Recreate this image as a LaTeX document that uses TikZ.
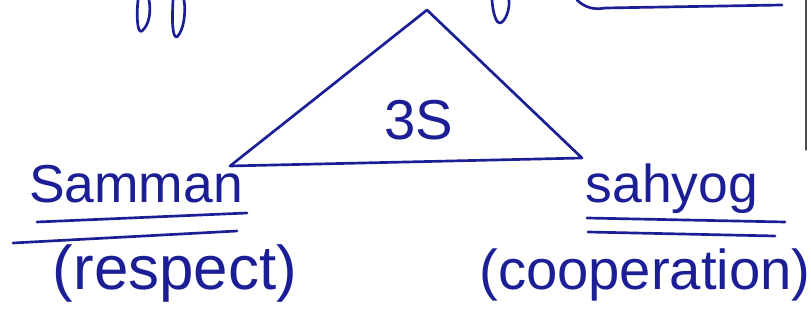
\documentclass[tikz,border=0pt]{standalone}
\usepackage{fontspec}
\setmainfont{Liberation Sans}
\usetikzlibrary{positioning}
\definecolor{ink}{RGB}{28,30,150}

\begin{document}
\begin{tikzpicture}[x=0.025cm, y=-0.025cm, line cap=round, line join=round]
        \tikzstyle{pen}=[draw=ink, line width=1.9pt]
        \tikzstyle{word}=[text=ink, inner sep=0pt, anchor=base, font=\fontsize{38}{40}\selectfont]
        \tikzstyle{paren}=[text=ink, inner sep=0pt, anchor=base, font=\fontsize{40}{42}\selectfont]
        \useasboundingbox (0,0) rectangle (811,333);

        % triangle
        \coordinate (apex) at (427,10);
        \coordinate (left) at (230,166);
        \coordinate (right) at (582,158);
        \draw[pen] (apex) -- (left) -- (right) -- cycle;
        \node[text=ink, inner sep=0pt, font=\fontsize{40}{42}\selectfont] (three) at (419,120) {3S};

        % corners
        \node[word] (samman) at (136,203) {Samman};
        \node[paren, font=\fontsize{44}{46}\selectfont] (respect) at (175,290) {(respect)};
        \node[word] (sahyog) at (672,203) {sahyog};
        \node[paren] (coop) at (645,290) {(cooperation)};

        \draw[pen] (37,222) -- (247,213);
        \draw[pen] (13,243) -- (237,231);
        \draw[pen] (587,218) -- (785,222);
        \draw[pen] (588,232) -- (775,236);

        % cut-off strokes along the top edge
        \draw[pen] (138,0) .. controls (136,20) and (138,34) .. (142,31) .. controls (150,24) and (151,10) .. (149,0);
        \draw[pen] (173,0) .. controls (172,20) and (172,38) .. (177,37) .. controls (184,30) and (186,12) .. (184,0);
        \draw[pen] (492,0) .. controls (493,15) and (497,24) .. (500,23) .. controls (505,22) and (510,10) .. (509,0);
        \draw[pen] (577,0) .. controls (585,8) and (595,10) .. (605,8) -- (782,5);
        \draw[gray!60!black, line width=0.8pt] (806,0) -- (806,150);
    \end{tikzpicture}
\end{document}
